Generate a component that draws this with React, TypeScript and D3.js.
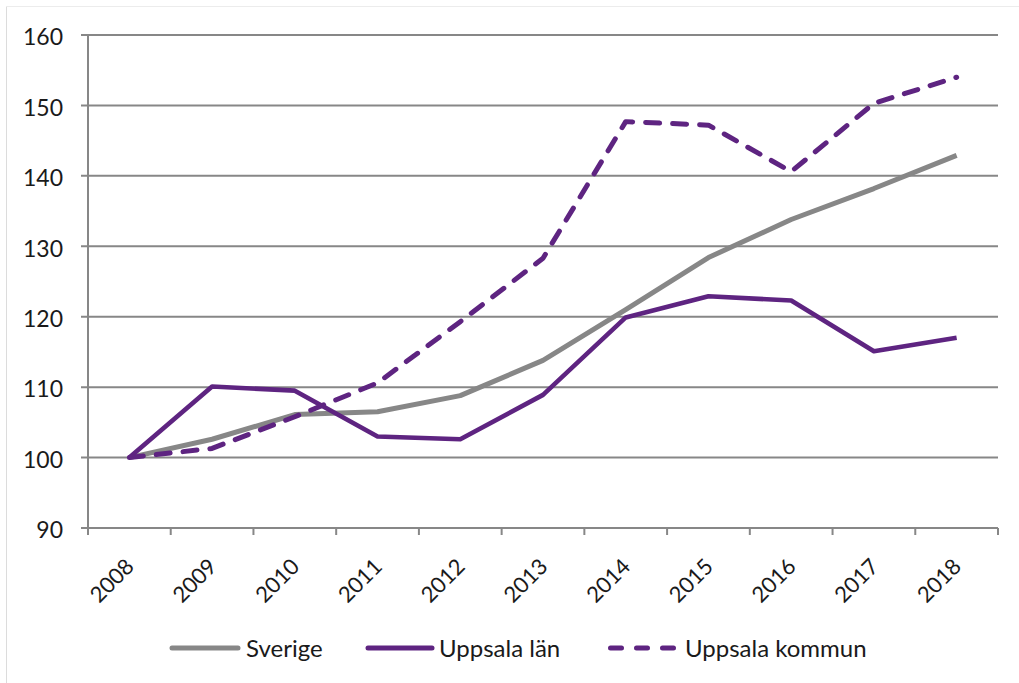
import React from "react";
import * as d3 from "d3";

const years = ["2008","2009","2010","2011","2012","2013","2014","2015","2016","2017","2018"];
const sverige = [100, 102.6, 106.1, 106.5, 108.8, 113.8, 121.0, 128.4, 133.8, 138.2, 142.9];
const uppsalaLan = [100, 110.1, 109.5, 103.0, 102.6, 108.9, 119.9, 122.9, 122.3, 115.1, 117.0];
const uppsalaKommun = [100, 101.3, 105.8, 110.6, 119.3, 128.3, 147.7, 147.2, 140.6, 150.3, 154.0];
const yTicks = [90, 100, 110, 120, 130, 140, 150, 160];
const seriesNames = ["Sverige", "Uppsala län", "Uppsala kommun"];

const GRAY = "#878787";
const PURPLE = "#5e2481";
const FONT = "Lato, 'Open Sans', sans-serif";

export default function App() {
  const W = 1019, H = 683;
  const left = 88, right = 998, top = 35, bottom = 528;
  const x = d3.scaleBand<string>().domain(years).range([left, right]).padding(0);
  const y = d3.scaleLinear().domain([90, 160]).range([bottom, top]);
  const cx = (yr: string) => (x(yr) as number) + x.bandwidth() / 2;
  const line = d3.line<number>().x((_, i) => cx(years[i])).y((d) => y(d));

  const series = [
    { name: seriesNames[0], data: sverige, color: GRAY, width: 5, dash: undefined as string | undefined },
    { name: seriesNames[1], data: uppsalaLan, color: PURPLE, width: 4.6, dash: undefined },
    { name: seriesNames[2], data: uppsalaKommun, color: PURPLE, width: 5, dash: "14 13" },
  ];

  const legend = [
    { x1: 172, x2: 238, tx: 246 },
    { x1: 368, x2: 432, tx: 439 },
    { x1: 610.5, x2: 674, tx: 685 },
  ];

  const boundaries = years.map((yr) => x(yr) as number).concat([right]);

  return (
    <svg width={W} height={H} style={{ position: "absolute", left: 0, top: 0, background: "#fff" }}>
      <line x1={6.5} x2={6.5} y1={6} y2={H} stroke="#dcdcdc" strokeWidth={1} />
      <line x1={6} x2={W} y1={6.5} y2={6.5} stroke="#ececec" strokeWidth={1} />
      {yTicks.map((t) => (
        <g key={t}>
          <line x1={left - 7} x2={right} y1={y(t)} y2={y(t)} stroke={GRAY} strokeWidth={2} />
          <text x={63} y={y(t) + 2} dy="0.36em" textAnchor="end" fontFamily={FONT} fontSize={23} fill="#1a1a1a">
            {t}
          </text>
        </g>
      ))}
      <line x1={left} x2={left} y1={top} y2={bottom + 7} stroke={GRAY} strokeWidth={2} />
      {boundaries.slice(1).map((bx, i) => (
        <line key={i} x1={bx} x2={bx} y1={bottom} y2={bottom + 7} stroke={GRAY} strokeWidth={2} />
      ))}
      {years.map((yr) => (
        <text
          key={yr}
          transform={`translate(${cx(yr) + 6},${bottom + 40}) rotate(-45)`}
          textAnchor="end"
          fontFamily={FONT}
          fontSize={22}
          fill="#1a1a1a"
        >
          {yr}
        </text>
      ))}
      {series.map((s) => (
        <path
          key={s.name}
          d={line(s.data) as string}
          fill="none"
          stroke={s.color}
          strokeWidth={s.width}
          strokeDasharray={s.dash}
          strokeLinecap={s.dash ? "round" : "butt"}
          strokeLinejoin="round"
        />
      ))}
      {series.map((s, i) => (
        <g key={s.name}>
          <line
            x1={legend[i].x1}
            x2={legend[i].x2}
            y1={648}
            y2={648}
            stroke={s.color}
            strokeWidth={5}
            strokeLinecap="round"
            strokeDasharray={s.dash ? "11 15" : undefined}
          />
          <text x={legend[i].tx} y={648} dy="0.36em" fontFamily={FONT} fontSize={24} fill="#1a1a1a">
            {s.name}
          </text>
        </g>
      ))}
    </svg>
  );
}
